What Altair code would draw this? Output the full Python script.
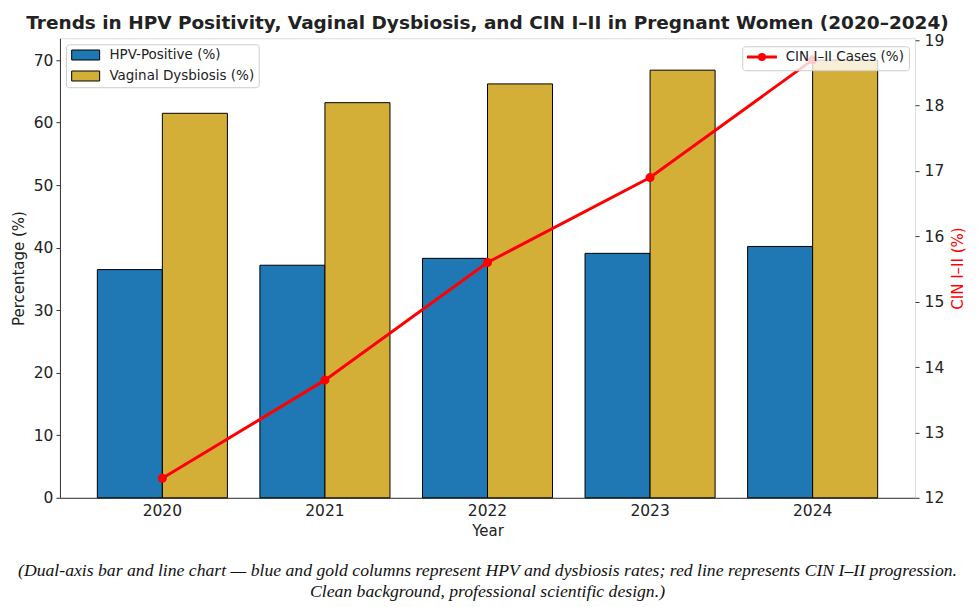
import altair as alt
import pandas as pd

years = ["2020", "2021", "2022", "2023", "2024"]
hpv_positive = [36.5, 37.2, 38.3, 39.1, 40.2]
vaginal_dysbiosis = [61.5, 63.2, 66.2, 68.4, 70.0]
cin_cases = [12.3, 13.8, 15.6, 16.9, 18.7]

series_names = ["HPV-Positive (%)", "Vaginal Dysbiosis (%)"]
series_colors = ["#1f77b4", "#d4af37"]
line_name = "CIN I–II Cases (%)"
left_ticks = [0, 10, 20, 30, 40, 50, 60, 70]
right_ticks = [12, 13, 14, 15, 16, 17, 18, 19]

title_text = "Trends in HPV Positivity, Vaginal Dysbiosis, and CIN I–II in Pregnant Women (2020–2024)"
caption_lines = [
    "(Dual-axis bar and line chart — blue and gold columns represent HPV and dysbiosis rates; red line represents CIN I–II progression.",
    "Clean background, professional scientific design.)",
]

bars_df = pd.DataFrame({
    "Year": years + years,
    "Series": [series_names[0]] * len(years) + [series_names[1]] * len(years),
    "Value": hpv_positive + vaginal_dysbiosis,
})
line_df = pd.DataFrame({"Year": years, "CIN": cin_cases, "Label": [line_name] * len(years)})

W, H = 856, 460
FONT = "DejaVu Sans"

x_scale = alt.Scale(domain=years, paddingInner=0.2, paddingOuter=0.23)

legend_common = dict(
    title=None,
    orient="none",
    fillColor="rgba(255,255,255,0.8)",
    strokeColor="#cccccc",
    cornerRadius=3,
    padding=4,
    rowPadding=6,
    labelFontSize=13.5,
    labelColor="#222222",
    labelFont=FONT,
    symbolSize=100,
    symbolOffset=9,
    labelOffset=17,
)

bars = alt.Chart(bars_df).mark_bar(stroke="black", strokeWidth=1).encode(
    x=alt.X("Year:N", scale=x_scale, sort=years,
            axis=alt.Axis(title="Year", labelAngle=0, ticks=False, labelPadding=6,
                          titlePadding=4, labelFontSize=15.5, titleFontSize=15,
                          titleFontWeight="normal", domainColor="#333333",
                          labelColor="#222222", titleColor="#222222")),
    xOffset=alt.XOffset("Series:N", sort=series_names,
                        scale=alt.Scale(domain=series_names, paddingInner=0, paddingOuter=0)),
    y=alt.Y("Value:Q", scale=alt.Scale(domain=[0, 73.5], nice=False, zero=True),
            axis=alt.Axis(title="Percentage (%)", values=left_ticks, grid=False, tickSize=4,
                          labelPadding=3, titlePadding=7, labelFontSize=15.5, titleFontSize=15,
                          titleFontWeight="normal", domainColor="#333333", tickColor="#333333",
                          labelColor="#222222", titleColor="#222222")),
    fill=alt.Fill("Series:N", scale=alt.Scale(domain=series_names, range=series_colors),
                  legend=alt.Legend(legendX=6, legendY=6,
                                    symbolType="M-2.8,-1H2.8V1H-2.8Z",
                                    symbolStrokeColor="black", symbolStrokeWidth=1,
                                    **legend_common)),
)

line = alt.Chart(line_df).mark_line(
    color="red", strokeWidth=3,
    point=alt.OverlayMarkDef(filled=True, size=50, color="red"),
).encode(
    x=alt.X("Year:N", sort=years),
    y=alt.Y("CIN:Q", scale=alt.Scale(domain=[12, 19.03], nice=False, zero=False),
            axis=alt.Axis(orient="right", title="CIN I–II (%)", values=right_ticks, grid=False,
                          domain=False, tickSize=4, tickColor="#333333", labelPadding=5,
                          titlePadding=7, labelFontSize=15.5, titleFontSize=15,
                          titleFontWeight="normal", titleColor="red", labelColor="#222222",
                          titleAngle=270, titleBaseline="top")),
    stroke=alt.Stroke("Label:N", scale=alt.Scale(domain=[line_name], range=["red"]),
                      legend=alt.Legend(legendX=683, legendY=8,
                                        symbolType="M-3,0H3M-0.5,0A0.5,0.5 0 1,1 0.5,0A0.5,0.5 0 1,1 -0.5,0",
                                        symbolStrokeColor="red", symbolFillColor="red",
                                        symbolStrokeWidth=3,
                                        **legend_common)),
)

caption = alt.Chart(pd.DataFrame({"c": [0]})).mark_text(
    font="Liberation Serif", fontStyle="italic", fontSize=17.7, lineHeight=21,
    align="center", baseline="top", color="#111111",
).encode(
    x=alt.value(W / 2),
    y=alt.value(524),
    text=alt.value(caption_lines),
)

chart = alt.layer(bars, line, caption).resolve_scale(y="independent").properties(
    width=W,
    height=H,
    padding={"left": 3, "top": 5, "right": 5, "bottom": 5},
    title=alt.Title(title_text, fontSize=18.5, fontWeight="bold", color="#222222",
                    offset=1, anchor="middle", font=FONT),
).configure_view(stroke=None).configure(font=FONT)

chart.save("out.html", embed_options={"renderer": "svg", "actions": False})
